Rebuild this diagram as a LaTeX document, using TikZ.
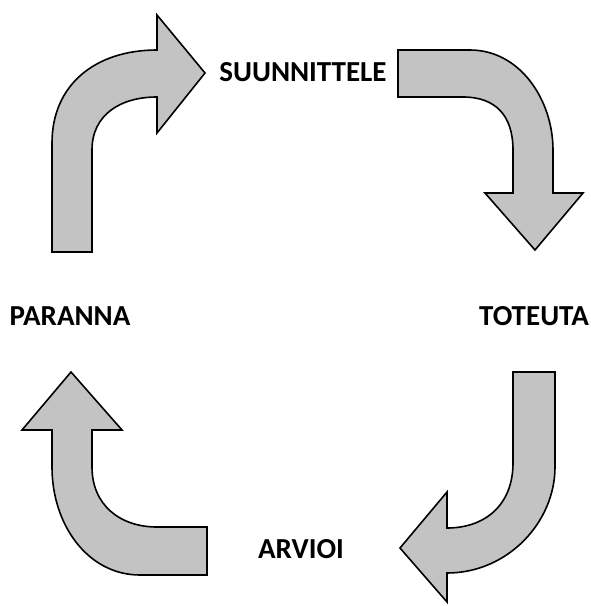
\documentclass[tikz,border=0pt]{standalone}
\usepackage{fontspec}
\setmainfont{Carlito}
\definecolor{arrowgrey}{HTML}{C3C3C3}
\begin{document}
\begin{tikzpicture}[x=1pt,y=-1pt,
  blockarrow/.style={fill=arrowgrey,draw=black,line width=1.6pt,line join=miter},
  lbl/.style={font=\bfseries\fontsize{29}{31}\selectfont,text=black,inner sep=0pt}]
\useasboundingbox (0,0) rectangle (590,606);
% top-left arrow (up and right)
\draw[blockarrow] (52,252) -- (52,143) .. controls (52,85) and (95,50) .. (157,50)
  -- (157,15) -- (205,73) -- (157,133) -- (157,97)
  .. controls (120,97) and (92,115) .. (92,150) -- (92,252) -- cycle;
% top-right arrow (right and down)
\draw[blockarrow] (398,50) -- (470,50) .. controls (520,50) and (553,100) .. (553,150)
  -- (553,193) -- (583,193) -- (535,250) -- (485,193) -- (513,193) -- (513,150)
  .. controls (513,115) and (495,97) .. (463,97) -- (398,97) -- cycle;
% bottom-right arrow (down and left)
\draw[blockarrow] (513,372) -- (555,372) -- (555,467) .. controls (555,522) and (508,573) .. (447,573)
  -- (447,602) -- (400,548) -- (447,492) -- (447,528)
  .. controls (485,528) and (513,505) .. (513,463) -- cycle;
% bottom-left arrow (left and up)
\draw[blockarrow] (207,527) -- (207,575) -- (140,575) .. controls (88,575) and (52,525) .. (52,467)
  -- (52,430) -- (22,430) -- (71,372) -- (122,430) -- (92,430) -- (92,467)
  .. controls (92,505) and (120,527) .. (157,527) -- cycle;
% labels
\node[lbl] (suunnittele) at (303,72) {SUUNNITTELE};
\node[lbl] (toteuta) at (534,316) {TOTEUTA};
\node[lbl] (arvioi) at (301,549) {ARVIOI};
\node[lbl] (paranna) at (70,316) {PARANNA};
\end{tikzpicture}
\end{document}
